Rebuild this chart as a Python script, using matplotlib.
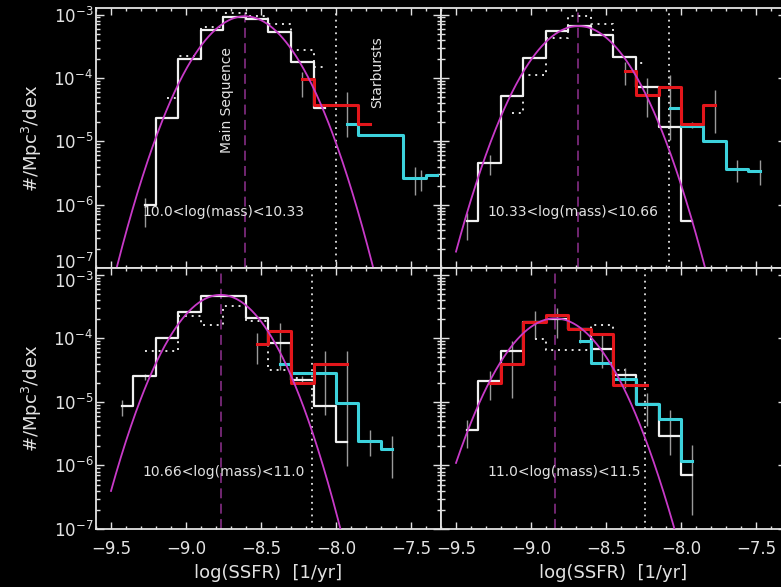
import numpy as np
import matplotlib.pyplot as plt
from matplotlib.ticker import MultipleLocator, LogLocator
from matplotlib.transforms import ScaledTranslation

# SSFR functions in four mass bins, bin centres on a 0.15 dex grid
# white = all galaxies (solid), white dotted = other sample, red / cyan = starburst samples

# 10.0 < log(mass) < 10.33
tl_white_x = [-9.275, -9.125, -8.975, -8.825, -8.675, -8.525, -8.375, -8.225, -8.075]
tl_white_y = [1.0e-6, 2.3e-5, 2.0e-4, 5.8e-4, 9.0e-4, 8.4e-4, 5.3e-4, 1.8e-4, 3.3e-5]
tl_dot_x = [-9.125, -8.975, -8.825, -8.675, -8.525, -8.375, -8.225, -8.075]
tl_dot_y = [4.9e-5, 2.2e-4, 6.4e-4, 1.04e-3, 9.4e-4, 7.2e-4, 2.75e-4, 1.5e-4]
tl_red_x = [-8.225, -8.075, -7.925, -7.775]
tl_red_y = [9.5e-5, 3.7e-5, 3.7e-5, 1.87e-5]
tl_cyan_x = [-7.925, -7.775, -7.625, -7.475, -7.325]
tl_cyan_y = [1.9e-5, 1.25e-5, 1.25e-5, 2.6e-6, 2.9e-6]
tl_err_x = [-9.275, -8.225, -7.925, -7.475, -7.435]
tl_err_lo = [4.5e-7, 5.0e-5, 1.17e-5, 1.4e-6, 1.66e-6]
tl_err_hi = [1.26e-6, 1.26e-4, 6.0e-5, 4.0e-6, 3.5e-6]

# 10.33 < log(mass) < 10.66
tr_white_x = [-9.425, -9.275, -9.125, -8.975, -8.825, -8.675, -8.525, -8.375, -8.225, -8.075, -7.925]
tr_white_y = [5.6e-7, 4.5e-6, 5.2e-5, 2.1e-4, 5.5e-4, 6.6e-4, 4.7e-4, 2.15e-4, 7.1e-5, 1.7e-5, 5.6e-7]
tr_dot_x = [-9.125, -8.975, -8.825, -8.675, -8.525, -8.375, -8.225]
tr_dot_y = [2.8e-5, 1.1e-4, 4.2e-4, 9.4e-4, 7.1e-4, 2.15e-4, 1.7e-4]
tr_red_x = [-8.375, -8.225, -8.075, -7.925, -7.775]
tr_red_y = [1.3e-4, 5.4e-5, 7.2e-5, 1.87e-5, 3.7e-5]
tr_cyan_x = [-8.075, -7.925, -7.775, -7.625, -7.475]
tr_cyan_y = [3.3e-5, 1.74e-5, 1.0e-5, 3.65e-6, 3.4e-6]
tr_err_x = [-9.425, -9.275, -8.375, -8.225, -8.075, -7.925, -7.775, -7.625, -7.475]
tr_err_lo = [2.8e-7, 2.9e-6, 7.7e-5, 2.4e-5, 1.05e-5, 1.6e-5, 1.33e-5, 2.3e-6, 2.04e-6]
tr_err_hi = [7.3e-7, 6.1e-6, 1.8e-4, 9.8e-5, 1.1e-4, 2.0e-5, 6.4e-5, 5.0e-6, 5.0e-6]

# 10.66 < log(mass) < 11.0
bl_white_x = [-9.425, -9.275, -9.125, -8.975, -8.825, -8.675, -8.525, -8.375, -8.225, -8.075, -7.925]
bl_white_y = [8.5e-6, 2.5e-5, 9.9e-5, 2.6e-4, 4.6e-4, 4.6e-4, 2.1e-4, 8.5e-5, 2.2e-5, 8.5e-6, 2.3e-6]
bl_dot_x = [-9.275, -9.125, -8.975, -8.825, -8.675, -8.525, -8.375, -8.225]
bl_dot_y = [6.2e-5, 6.2e-5, 2.2e-4, 1.6e-4, 3.2e-4, 1.86e-4, 3.2e-5, 2.4e-5]
bl_red_x = [-8.525, -8.375, -8.225, -8.075, -7.925]
bl_red_y = [8.0e-5, 1.3e-4, 2.0e-5, 3.9e-5, 3.9e-5]
bl_cyan_x = [-8.375, -8.225, -8.075, -7.925, -7.775, -7.625]
bl_cyan_y = [4.0e-5, 2.86e-5, 2.86e-5, 9.6e-6, 2.4e-6, 1.8e-6]
bl_err_x = [-9.425, -9.275, -8.525, -8.375, -8.225, -8.075, -7.925, -7.775, -7.625]
bl_err_lo = [5.9e-6, 2.2e-5, 3.9e-5, 3.2e-5, 2.0e-5, 6.3e-6, 9.8e-7, 1.4e-6, 6.3e-7]
bl_err_hi = [1.08e-5, 2.7e-5, 1.22e-4, 1.75e-4, 2.5e-5, 6.3e-5, 6.3e-5, 3.6e-6, 2.9e-6]

# 11.0 < log(mass) < 11.5
br_white_x = [-9.425, -9.275, -9.125, -8.975, -8.825, -8.675, -8.525, -8.375, -8.225, -8.075, -7.925]
br_white_y = [3.6e-6, 2.1e-5, 6.2e-5, 1.8e-4, 2.0e-4, 1.41e-4, 6.65e-5, 2.6e-5, 9.4e-6, 2.86e-6, 7.1e-7]
br_dot_x = [-8.975, -8.825, -8.675, -8.525, -8.375]
br_dot_y = [9.8e-5, 6.5e-5, 6.5e-5, 1.59e-4, 3.2e-5]
br_red_x = [-9.275, -9.125, -8.975, -8.825, -8.675, -8.525, -8.375, -8.225]
br_red_y = [2.0e-5, 3.9e-5, 1.8e-4, 2.3e-4, 1.41e-4, 1.15e-4, 1.87e-5, 1.87e-5]
br_cyan_x = [-8.675, -8.525, -8.375, -8.225, -8.075, -7.925]
br_cyan_y = [9.0e-5, 4.1e-5, 2.3e-5, 9.4e-6, 5.4e-6, 1.18e-6]
br_err_x = [-9.425, -9.275, -9.125, -8.975, -8.825, -8.675, -8.525, -8.375, -8.225, -8.075, -7.925]
br_err_lo = [1.9e-6, 1.08e-5, 1.15e-5, 9.6e-5, 1.02e-4, 8.3e-5, 3.4e-5, 1.66e-5, 4.1e-6, 1.47e-6, 1.66e-7]
br_err_hi = [5.2e-6, 3.1e-5, 9.0e-5, 2.67e-4, 3.0e-4, 1.48e-4, 1.22e-4, 3.4e-5, 1.38e-5, 7.5e-6, 2.1e-6]

# gaussian fits (peak, centre, width) and starburst cut
fit_peak = [9.4e-4, 6.6e-4, 4.8e-4, 2.05e-4]
fit_mu = [-8.607, -8.684, -8.769, -8.84]
fit_sigma = [0.200, 0.2015, 0.194, 0.204]
sb_cut = [-8.0, -8.08, -8.16, -8.24]
mass_labels = ["10.0<log(mass)<10.33", "10.33<log(mass)<10.66",
               "10.66<log(mass)<11.0", "11.0<log(mass)<11.5"]

panels = [
    (tl_white_x, tl_white_y, tl_dot_x, tl_dot_y, tl_red_x, tl_red_y, tl_cyan_x, tl_cyan_y, tl_err_x, tl_err_lo, tl_err_hi),
    (tr_white_x, tr_white_y, tr_dot_x, tr_dot_y, tr_red_x, tr_red_y, tr_cyan_x, tr_cyan_y, tr_err_x, tr_err_lo, tr_err_hi),
    (bl_white_x, bl_white_y, bl_dot_x, bl_dot_y, bl_red_x, bl_red_y, bl_cyan_x, bl_cyan_y, bl_err_x, bl_err_lo, bl_err_hi),
    (br_white_x, br_white_y, br_dot_x, br_dot_y, br_red_x, br_red_y, br_cyan_x, br_cyan_y, br_err_x, br_err_lo, br_err_hi),
]

FG = "#e2e2e2"
W, H = 781, 587
rects = [
    [96 / W, 1 - 268 / H, 345 / W, 260 / H],
    [441 / W, 1 - 268 / H, 345 / W, 260 / H],
    [96 / W, 1 - 529 / H, 345 / W, 261 / H],
    [441 / W, 1 - 529 / H, 345 / W, 261 / H],
]

fig = plt.figure(figsize=(7.81, 5.87), dpi=100, facecolor="black")
xx = np.linspace(-9.5, -7.3, 400)
axes = []

for i, (wx, wy, dx, dy, rx, ry, cx, cy, ex, elo, ehi) in enumerate(panels):
    ax = fig.add_axes(rects[i])
    axes.append(ax)
    ax.set_facecolor("black")
    ax.set_yscale("log")

    ax.vlines(ex, elo, ehi, color="#9a9a9a", lw=1.0, zorder=1)
    ax.step(dx, dy, where="mid", color=FG, lw=1.4, ls=(0, (1, 2.5)), zorder=2)
    ax.step(wx, wy, where="mid", color="#f0f0f0", lw=1.6, zorder=3)
    ax.step(cx, cy, where="mid", color="#3cd2dc", lw=2.2, zorder=4)
    ax.step(rx, ry, where="mid", color="#e3161b", lw=2.2, zorder=5)

    fit = fit_peak[i] * np.exp(-(xx - fit_mu[i]) ** 2 / (2 * fit_sigma[i] ** 2))
    ax.plot(xx, fit, color="#c83ac8", lw=1.3, zorder=6)
    ax.axvline(fit_mu[i], color="#7a2a7a", lw=1.3, ls=(0, (5.5, 3)), zorder=1)
    ax.axvline(sb_cut[i], color=FG, lw=1.3, ls=(0, (1, 2.5)), zorder=1)

    ax.text(0.135, 0.217, mass_labels[i], transform=ax.transAxes, color=FG,
            fontsize=10, va="center", ha="left", zorder=7)

    ax.set_xlim(-9.6, -7.3)
    ax.set_ylim(1e-7, 1.27e-3)
    ax.xaxis.set_major_locator(MultipleLocator(0.5))
    ax.xaxis.set_minor_locator(MultipleLocator(0.1))
    ax.yaxis.set_major_locator(LogLocator(base=10, numticks=10))
    ax.yaxis.set_minor_locator(LogLocator(base=10, subs=np.arange(2, 10), numticks=20))

    ax.tick_params(which="both", direction="in", top=True, right=True,
                   colors=FG, labelsize=12, width=1)
    ax.tick_params(axis="x", which="major", length=5, pad=8)
    ax.tick_params(axis="x", which="minor", length=2.5)
    ax.tick_params(axis="y", which="major", length=6, pad=2)
    ax.tick_params(axis="y", which="minor", length=3)
    for s in ax.spines.values():
        s.set_color(FG)
        s.set_linewidth(1.3)

    if i < 2:
        ax.tick_params(axis="x", labelbottom=False)
    else:
        ax.set_xlabel("log(SSFR)  [1/yr]", color=FG, fontsize=13)
        ax.xaxis.set_label_coords(0.5, -0.17)
        ax.xaxis.label.set_va("center")
    if i % 2 == 1:
        ax.tick_params(axis="y", labelleft=False)
    else:
        ax.set_ylabel("#/Mpc$^3$/dex", color=FG, fontsize=13)
        ax.yaxis.set_label_coords(-0.185, 0.5)
        ax.yaxis.label.set_va("center")

    if i == 0:
        ax.text(-8.729, 4.5e-5, "Main Sequence", rotation=90, color=FG,
                fontsize=10, ha="center", va="center", zorder=7)
        ax.text(-7.729, 1.25e-4, "Starbursts", rotation=90, color=FG,
                fontsize=10, ha="center", va="center", zorder=7)

# the 10^-7 of the top row and the 10^-3 of the bottom row meet at the seam,
# nudge them apart like the original does
fig.canvas.draw()
for ax, loc, dy in [(axes[0], 1e-7, 5.0), (axes[2], 1e-3, -3.5)]:
    for tick, tl in zip(ax.yaxis.get_major_ticks(), ax.yaxis.get_majorticklocs()):
        if np.isclose(tl, loc):
            lab = tick.label1
            lab.set_transform(lab.get_transform() + ScaledTranslation(0, dy / 72, fig.dpi_scale_trans))

fig.savefig("out.png", dpi=100, facecolor="black")
